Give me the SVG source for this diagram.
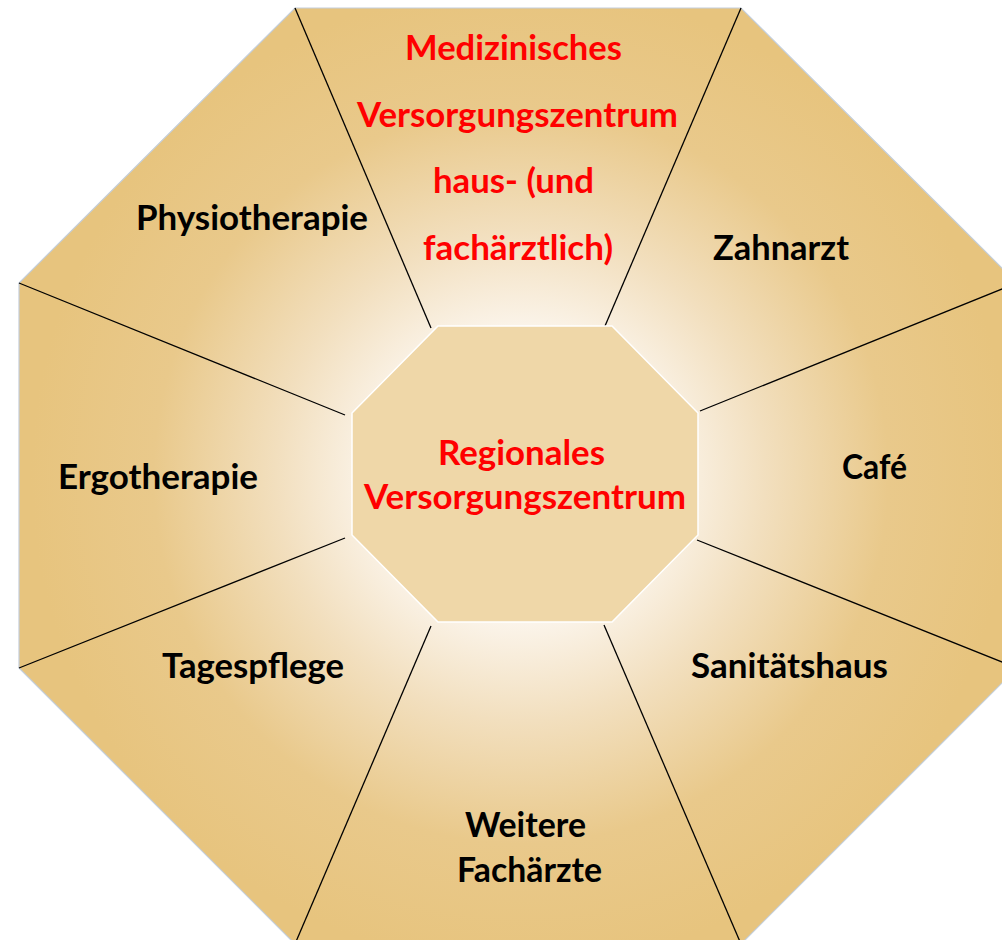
<svg xmlns="http://www.w3.org/2000/svg" width="1002" height="940" viewBox="0 0 1002 940">
  <defs>
    <radialGradient id="bg" gradientUnits="userSpaceOnUse" cx="521" cy="476" r="490">
      <stop offset="0" stop-color="#FFFFFF"/>
      <stop offset="0.3" stop-color="#FBF4EA"/>
      <stop offset="0.5" stop-color="#F2DFBE"/>
      <stop offset="0.75" stop-color="#E9C98B"/>
      <stop offset="1" stop-color="#E7C47E"/>
    </radialGradient>
    <style>
      .seg { fill: url(#bg); stroke: none; }
      .lbl { font-family: Lato, "Liberation Sans", sans-serif; font-weight: 700; font-size: 34px; text-anchor: middle; fill: #000000; }
      .red { fill: #FF0000; }
      .div { stroke: #000000; stroke-width: 1.3; fill: none; }
    </style>
  </defs>
  <rect width="1002" height="940" fill="#FFFFFF"/>
  <g id="frame">
    <polygon points="295,8 741,8 1017,283 1017,668 741,944 295,944 19,668 19,283" fill="url(#bg)" stroke="#C3CEDB" stroke-width="1.2"/>
  </g>
  <g id="node-mvz">
    <polygon class="seg" points="296,9 740,9 605,326 431,328"/>
    <text class="lbl red" x="513.5" y="60" textLength="217" lengthAdjust="spacingAndGlyphs">Medizinisches</text>
    <text class="lbl red" x="517.5" y="127" textLength="321" lengthAdjust="spacingAndGlyphs">Versorgungszentrum</text>
    <text class="lbl red" x="513.5" y="193" textLength="161" lengthAdjust="spacingAndGlyphs">haus- (und</text>
    <text class="lbl red" x="518" y="260" textLength="190" lengthAdjust="spacingAndGlyphs">fachärztlich)</text>
  </g>
  <g id="node-zahnarzt">
    <text class="lbl" x="781" y="260" textLength="136" lengthAdjust="spacingAndGlyphs">Zahnarzt</text>
  </g>
  <g id="node-cafe">
    <text class="lbl" x="874.5" y="479" textLength="65" lengthAdjust="spacingAndGlyphs">Café</text>
  </g>
  <g id="node-sanitaetshaus">
    <text class="lbl" x="789.5" y="678" textLength="197" lengthAdjust="spacingAndGlyphs">Sanitätshaus</text>
  </g>
  <g id="node-fachaerzte">
    <text class="lbl" x="525.5" y="837" textLength="121" lengthAdjust="spacingAndGlyphs">Weitere</text>
    <text class="lbl" x="529.5" y="882" textLength="145" lengthAdjust="spacingAndGlyphs">Fachärzte</text>
  </g>
  <g id="node-tagespflege">
    <text class="lbl" x="253" y="678" textLength="182" lengthAdjust="spacingAndGlyphs">Tagespflege</text>
  </g>
  <g id="node-ergotherapie">
    <text class="lbl" x="158" y="489" textLength="200" lengthAdjust="spacingAndGlyphs">Ergotherapie</text>
  </g>
  <g id="node-physiotherapie">
    <text class="lbl" x="252" y="230" textLength="232" lengthAdjust="spacingAndGlyphs">Physiotherapie</text>
  </g>
  <g id="connectors">
    <line class="div" x1="295" y1="8" x2="431" y2="328"/>
    <line class="div" x1="741" y1="8" x2="605" y2="326"/>
    <line class="div" x1="1017" y1="283" x2="700" y2="411"/>
    <line class="div" x1="1017" y1="668" x2="697" y2="540"/>
    <line class="div" x1="741" y1="944" x2="604" y2="625"/>
    <line class="div" x1="295" y1="944" x2="431" y2="626"/>
    <line class="div" x1="19" y1="668" x2="345" y2="538"/>
    <line class="div" x1="19" y1="283" x2="345" y2="415"/>
  </g>
  <g id="node-center">
    <polygon points="438,326 612,326 698,413 698,535 612,622 438,622 352,535 352,413" fill="#EFD7A8" stroke="#FFFFFF" stroke-width="1.5"/>
    <text class="lbl red" x="521.5" y="465" textLength="167" lengthAdjust="spacingAndGlyphs">Regionales</text>
    <text class="lbl red" x="525" y="509" textLength="322" lengthAdjust="spacingAndGlyphs">Versorgungszentrum</text>
  </g>
</svg>
